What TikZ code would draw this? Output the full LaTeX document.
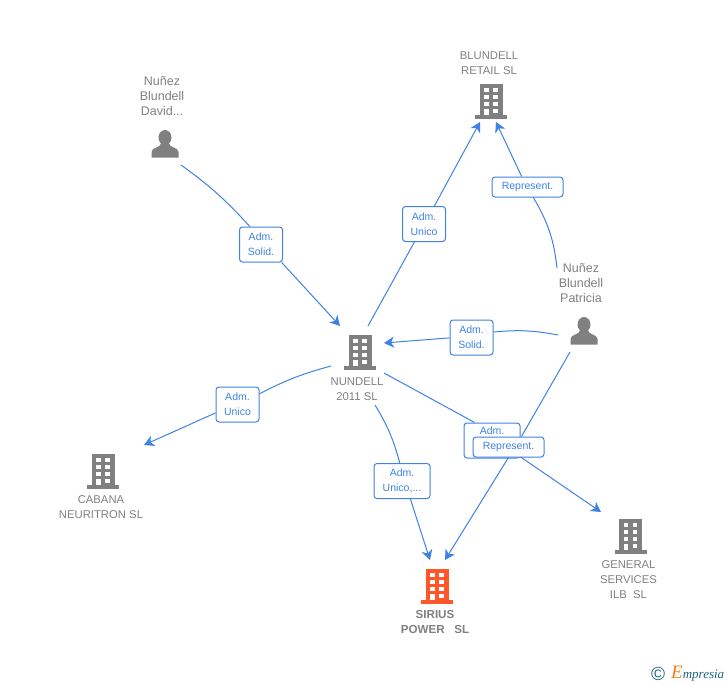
\documentclass[tikz,border=0pt]{standalone}
\usepackage{fontspec}
\setmainfont{Liberation Sans}
\newfontfamily\logofont{Liberation Serif}
\usetikzlibrary{arrows.meta}
\definecolor{MyBlue}{RGB}{62,130,228}
\definecolor{MyGray}{RGB}{128,128,128}
\definecolor{MyRed}{RGB}{255,87,41}
\definecolor{MyTeal}{RGB}{30,100,125}
\definecolor{MyOrange}{RGB}{240,125,20}

\tikzset{
    pics/bldg/.style={code={
        \fill[#1] (-11.5,-17) rectangle (11.5,15);
        \fill[#1] (-16,14) rectangle (16,17.5);
        \foreach \wy in {-13,-6,1}{
            \fill[white] (-7,\wy) rectangle (-2.5,\wy+3.8);
            \fill[white] (2,\wy) rectangle (6.5,\wy+3.8);
        }
        \fill[white] (-7,8) rectangle (-2.5,14);
        \fill[white] (2,8) rectangle (6.5,11.8);
    }},
    pics/pers/.style={code={
        \fill[MyGray] (0,-6.5) ellipse (6.5 and 7.5);
        \fill[MyGray] (-13.5,13.5) -- (-13.5,8) .. controls (-13.5,3) and (-4,4.5) .. (-3.5,-2)
            -- (3.5,-2) .. controls (4,4.5) and (13.5,3) .. (13.5,8) -- (13.5,13.5) -- cycle;
    }}
}

\begin{document}
\begin{tikzpicture}[x=1pt, y=-1pt]
    \tikzstyle{ent} = [inner sep=0pt, minimum size=30pt]
    \tikzstyle{txt} = [align=center, inner sep=0pt, text=MyGray, font=\fontsize{11.3}{15}\selectfont]
    \tikzstyle{ptxt} = [txt, font=\fontsize{12.5}{15}\selectfont]
    \tikzstyle{tag} = [draw=MyBlue, line width=1pt, fill=white, rounded corners=3pt, align=center, inner sep=0pt, text=MyBlue, font=\fontsize{10.5}{15}\selectfont, minimum width=43pt, minimum height=35pt]
    \tikzstyle{tagw} = [tag, minimum width=71pt, minimum height=20pt]
    \tikzstyle{tagm} = [tag, minimum width=56pt]
    \tikzstyle{lnk} = [draw=MyBlue, line width=1pt]
    \tikzstyle{arr} = [lnk, -{Stealth[length=10pt, width=11pt, inset=3pt]}]

    \useasboundingbox (0,0) rectangle (728,685);

    \node[ent] (david) at (165,144) {};
    \node[ent] (patricia) at (584,331) {};
    \node[ent] (blundell) at (491,101) {};
    \node[ent] (nundell) at (360,352) {};
    \node[ent] (cabana) at (103,471) {};
    \node[ent] (general) at (630.5,536) {};
    \node[ent] (sirius) at (437,586) {};

    \pic at (david) {pers};
    \pic at (patricia) {pers};
    \pic at (blundell) {bldg=MyGray};
    \pic at (nundell) {bldg=MyGray};
    \pic at (cabana) {bldg=MyGray};
    \pic at (general) {bldg=MyGray};
    \pic at (sirius) {bldg=MyRed};

    \node[ptxt] (davidl) at (162,96) {Nuñez\\Blundell\\David...};
    \node[ptxt] (patricial) at (581,283) {Nuñez\\Blundell\\Patricia};
    \node[txt] (blundelll) at (489,63) {BLUNDELL\\RETAIL SL};
    \node[txt] (nundelll) at (357,389) {NUNDELL\\2011 SL};
    \node[txt] (cabanal) at (101,507) {CABANA\\NEURITRON SL};
    \node[txt] (generall) at (628.5,580) {GENERAL\\SERVICES\\ILB\ \ SL};
    \node[txt, font=\fontsize{11.6}{15}\selectfont\bfseries] (siriusl) at (435,622) {SIRIUS\\POWER\ \ \ SL};

    \node[tag] (solid) at (261,244.5) {Adm.\\Solid.};
    \node[tag] (unico) at (424,224) {Adm.\\Unico};
    \node[tagw] (repb) at (527.5,187) {Represent.};
    \node[tag] (solidp) at (471.5,337.5) {Adm.\\Solid.};
    \node[tag] (unicoc) at (237.5,404.5) {Adm.\\Unico};
    \node[tagm] (unicos) at (402,481) {Adm.\\Unico,...};
    \node[tagm] (adm) at (492,440.5) {Adm.\\\strut};
    \node[tagw] (reps) at (508.5,447) {Represent.};

    \coordinate (davidx) at (181,165);
    \coordinate (nundellt) at (340,326);
    \coordinate (nundellu) at (368,326);
    \coordinate (nundellr) at (384,343);
    \coordinate (nundelle) at (384,373);
    \coordinate (nundells) at (375,405);
    \coordinate (nundellw) at (331,366);
    \coordinate (blundella) at (480,122);
    \coordinate (blundellb) at (496,122);
    \coordinate (patriciat) at (557,268);
    \coordinate (patriciaw) at (558,335);
    \coordinate (patricias) at (570,352);
    \coordinate (siriusa) at (430,560);
    \coordinate (siriusb) at (445,560);
    \coordinate (generalx) at (601,512);
    \coordinate (cabanax) at (144,445);

    \draw[lnk] (davidx) to[bend left=6] (solid.122);
    \draw[arr] (solid.-41) -- (nundellt);
    \draw[lnk] (nundellu) -- (unico.-118);
    \draw[arr] (unico.60) -- (blundella);
    \draw[lnk] (patriciat) to[bend right=12] (repb.-61);
    \draw[arr] (repb.119) -- (blundellb);
    \draw[lnk] (patriciaw) to[bend right=8] (solidp.14);
    \draw[arr] (solidp.181) -- (nundellr);
    \draw[lnk] (nundelle) -- (adm.134);
    \draw[arr] (adm.-30) -- (generalx);
    \draw[lnk] (patricias) -- (reps.39);
    \draw[arr] (reps.-90) -- (siriusb);
    \draw[lnk] (nundells) to[bend left=8] (unicos.97);
    \draw[arr] (unicos.-65) -- (siriusa);
    \draw[lnk] (nundellw) to[bend right=6] (unicoc.26);
    \draw[arr] (unicoc.201) -- (cabanax);

    \node[inner sep=0pt, text=MyTeal, font=\fontsize{19}{15}\selectfont] (copyr) at (658,674) {©};
    \node[inner sep=0pt, anchor=west, text=MyTeal, font=\logofont\itshape\fontsize{13}{15}\selectfont] (logo) at (671,674) {{\color{MyOrange}\fontsize{19}{15}\selectfont E}mpresia};
\end{tikzpicture}
\end{document}
